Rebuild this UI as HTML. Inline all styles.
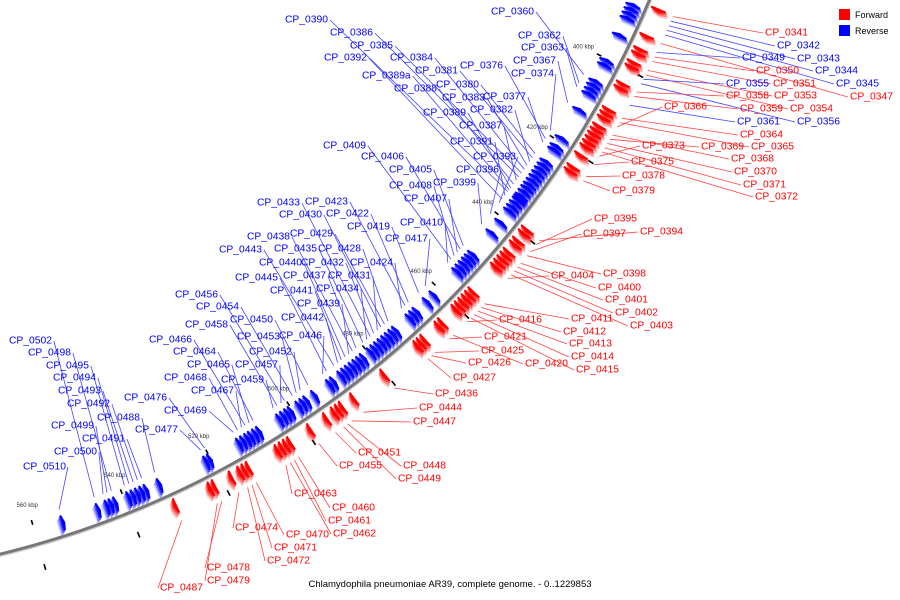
<!DOCTYPE html>
<html><head><meta charset="utf-8"><style>
html,body{margin:0;padding:0;background:#fff;width:900px;height:600px;overflow:hidden}
svg{display:block}
text{font-family:"Liberation Sans",sans-serif}
</style></head>
<body>
<svg id="map" width="900" height="600" viewBox="0 0 900 600">
  <g id="ticks"></g>
  <g id="feats"></g>
  <circle id="bb" fill="none" stroke="#777" stroke-width="3"></circle>
  <g id="lines"></g>
  <g id="labels"></g>
  <g>
    <rect x="839" y="9" width="11" height="11" fill="#f00"/>
    <text x="855" y="18" font-size="9">Forward</text>
    <rect x="839" y="25" width="11" height="11" fill="#00f"/>
    <text x="855" y="34" font-size="9">Reverse</text>
  </g>
  <text x="450" y="587" font-size="9.5" text-anchor="middle">Chlamydophila pneumoniae AR39, complete genome. - 0..1229853</text>
</svg>
<script>
const genomeLength = 1229853;
const tickKbp = [400,420,440,460,480,500,520,540,560];
const geneNames = ["0341","0342","0343","0344","0345","0347","0349","0350","0351","0353","0354","0355","0356","0358","0359","0360","0361","0362","0363","0364","0365","0366","0367","0368","0369","0370","0371","0372","0373","0374","0375","0376","0377","0378","0379","0380","0381","0382","0383","0384","0385","0386","0387","0388","0389","0389a","0390","0391","0392","0393","0394","0395","0396","0397","0398","0399","0400","0401","0402","0403","0404","0405","0406","0407","0408","0409","0410","0411","0412","0413","0414","0415","0416","0417","0419","0420","0421","0422","0423","0424","0425","0426","0427","0428","0429","0430","0431","0432","0433","0434","0435","0436","0437","0438","0439","0440","0441","0442","0443","0444","0445","0446","0447","0448","0449","0450","0451","0452","0453","0454","0455","0456","0457","0458","0459","0460","0461","0462","0463","0464","0465","0466","0467","0468","0469","0470","0471","0472","0474","0476","0477","0478","0479","0487","0488","0491","0492","0493","0494","0495","0498","0499","0500","0502","0510"];
const geneStartKbp = [386.0,387.0,388.0,389.0,390.0,391.9,393.9,394.9,395.9,397.9,398.9,399.9,400.9,402.8,403.8,404.8,405.8,406.8,407.8,408.8,409.8,410.8,411.7,412.7,413.7,414.7,415.7,416.7,417.7,418.7,419.7,420.7,421.6,422.6,423.6,424.6,425.6,426.6,427.6,428.6,429.6,430.6,431.5,432.5,433.5,434.0,434.5,435.5,436.5,437.5,438.5,439.5,440.5,441.4,442.4,443.4,444.4,445.4,446.4,447.4,448.4,449.4,450.4,451.3,452.3,453.3,454.3,455.3,456.3,457.3,458.3,459.3,460.3,461.2,463.2,464.2,465.2,466.2,467.2,468.2,469.2,470.2,471.1,472.1,473.1,474.1,475.1,476.1,477.1,478.1,479.1,480.1,481.0,482.0,483.0,484.0,485.0,486.0,487.0,488.0,489.0,490.0,490.9,491.9,492.9,493.9,494.9,495.9,496.9,497.9,498.9,499.9,500.8,501.8,502.8,503.8,504.8,505.8,506.8,507.8,508.8,509.8,510.7,511.7,512.7,513.7,514.7,515.7,517.7,519.7,520.6,521.6,522.6,530.5,531.5,534.5,535.5,536.5,537.5,538.5,541.5,542.5,543.4,545.4,553.3];
const geneStrand = "FRRRRFRFFFFRRFFRRRRFFFRFFFFFFRFRRFFRRRRRRRRRRRRRRRFFRFFRFFFFFRRRRRRFFFFFFRRFFRRRFFFRRRRRRRRFRRRRRRRFRRFFFRFRRRFRRRRFFFFRRRRRRFFFFRRFFFRRRRRRRRRRR";
const geneLenKbp = 0.8;
// label layout (text left x, middle y)
const labelPos = {"0341":[765,33],"0342":[777,46],"0349":[742,58],"0343":[797,59],"0350":[756,71],"0344":[815,71],"0355":[726,84],"0351":[773,84],"0345":[836,84],"0358":[726,96],"0353":[774,96],"0347":[850,97],"0366":[664,107],"0359":[740,109],"0354":[790,109],"0361":[737,122],"0356":[797,122],"0364":[740,135],"0373":[642,146],"0369":[701,147],"0365":[751,147],"0368":[731,159],"0375":[631,162],"0370":[734,172],"0378":[622,176],"0371":[743,185],"0379":[612,191],"0372":[755,197],"0395":[594,219],"0397":[583,234],"0394":[640,232],"0398":[603,274],"0404":[551,276],"0400":[598,288],"0401":[605,300],"0402":[615,313],"0403":[630,326],"0411":[571,319],"0416":[499,320],"0412":[563,332],"0421":[484,337],"0413":[569,344],"0425":[481,351],"0414":[571,357],"0426":[468,363],"0420":[525,364],"0415":[576,370],"0427":[453,378],"0436":[435,394],"0444":[419,408],"0447":[413,422],"0451":[358,453],"0455":[339,466],"0448":[403,466],"0449":[398,479],"0463":[294,494],"0460":[332,508],"0461":[328,521],"0462":[333,534],"0474":[235,528],"0470":[286,535],"0471":[274,548],"0472":[267,561],"0478":[207,568],"0479":[207,581],"0487":[160,588],
"0360":[491,12],"0357":[536,20],"0390":[285,20],"0386":[330,33],"0362":[518,36],"0385":[350,46],"0363":[521,48],"0392":[324,58],"0384":[390,58],"0367":[513,61],"0376":[460,66],"0381":[415,71],"0389a":[362,76],"0374":[511,74],"0380":[436,85],"0388":[394,89],"0383":[442,98],"0377":[483,97],"0389":[423,113],"0382":[470,110],"0387":[459,126],"0391":[450,142],"0409":[323,146],"0406":[361,157],"0393":[473,157],"0405":[389,170],"0396":[456,170],"0408":[389,186],"0399":[433,183],"0407":[404,199],"0423":[305,202],"0433":[257,203],"0430":[279,215],"0422":[326,214],"0410":[400,223],"0419":[347,227],"0429":[290,234],"0438":[247,237],"0417":[385,239],"0428":[318,249],"0443":[219,250],"0435":[274,249],"0440":[259,263],"0432":[301,263],"0424":[350,263],"0437":[283,276],"0431":[328,276],"0445":[235,278],"0441":[270,291],"0434":[316,289],"0456":[175,295],"0439":[297,304],"0454":[196,307],"0450":[230,320],"0442":[281,318],"0458":[185,325],"0453":[237,337],"0446":[279,336],"0466":[149,340],"0452":[249,352],"0464":[173,352],"0502":[9,341],"0498":[28,353],"0465":[187,365],"0457":[235,365],"0495":[46,366],"0468":[164,378],"0459":[221,380],"0494":[53,378],"0467":[191,391],"0493":[58,391],"0476":[124,398],"0492":[67,404],"0469":[164,411],"0488":[97,418],"0499":[51,426],"0477":[135,430],"0491":[82,439],"0500":[54,452],"0510":[23,467]};

const NS="http://www.w3.org/2000/svg";
const cx=-224, cy=-366, R=947;
function ang(kbp){return kbp*1000/genomeLength*2*Math.PI;}
function pt(kbp,r){const a=ang(kbp);return [cx+r*Math.sin(a), cy-r*Math.cos(a)];}
function mk(tag,attrs,parent){const e=document.createElementNS(NS,tag);for(const k in attrs)e.setAttribute(k,attrs[k]);parent.appendChild(e);return e;}

const bb=document.getElementById('bb');
bb.setAttribute('cx',cx);bb.setAttribute('cy',cy);bb.setAttribute('r',R);
const shadow=mk('circle',{cx:cx,cy:cy,r:R+2,fill:'none',stroke:'#ccc','stroke-width':1.5},document.getElementById('map'));


document.getElementById('map').insertBefore(shadow,bb);

const tg=document.getElementById('ticks');
tickKbp.forEach(k=>{
  const p=pt(k,907);
  const t=mk('text',{x:p[0].toFixed(1),y:p[1].toFixed(1),'font-size':6,fill:'#333','text-anchor':'middle','dominant-baseline':'middle'},tg);
  t.textContent=k+' kbp';
  
  
  const a=pt(k,922),b=pt(k,927);
  const l=mk('line',{x1:a[0],y1:a[1],x2:b[0],y2:b[1],stroke:'#000','stroke-width':1.6},tg);
  
  
  const c=pt(k,968),d=pt(k,974);
  const l2=mk('line',{x1:c[0],y1:c[1],x2:d[0],y2:d[1],stroke:'#000','stroke-width':1.6},tg);
  
  
});

const fg=document.getElementById('feats'), lg=document.getElementById('lines'), labg=document.getElementById('labels');
function featPath(s,e,r0,r1,fwd){
  const mid=(r0+r1)/2, tipw=0.4;
  let pts;
  if(fwd){pts=[pt(s,r0),pt(e-tipw,r0),pt(e,mid),pt(e-tipw,r1),pt(s,r1)];}
  else{pts=[pt(e,r0),pt(s+tipw,r0),pt(s,mid),pt(s+tipw,r1),pt(e,r1)];}
  return 'M'+pts.map(p=>p[0].toFixed(1)+','+p[1].toFixed(1)).join('L')+'Z';
}
geneNames.forEach((n,i)=>{
  const s=geneStartKbp[i], e=s+geneLenKbp, fwd=geneStrand[i]==='F';
  const col=fwd?'255,0,0':'0,0,255';
  const r0=fwd?951:926, r1=fwd?967:942;
  const g=mk('g',{},fg);
  
  
  [[0.2,0.9,4],[0.35,0.6,3],[0.6,0.3,1.5],[1,0,0]].forEach(([op,off,rr])=>{
    mk('path',{d:featPath(s+off,e+off,r0+rr,r1+rr,fwd),fill:'rgba('+col+','+op+')'},g);
  });
  const lp=labelPos[n]; if(!lp) return;
  const t=mk('text',{x:lp[0],y:lp[1],'font-size':10.3,fill:fwd?'#f00':'#00f','dominant-baseline':'middle'},labg);
  t.textContent='CP_'+n;
  
  
  const w=t.getComputedTextLength();
  const mid=(geneStartKbp[i]+geneLenKbp/2);
  const bp=pt(mid,947);
  const leftSide = lp[0] + w < bp[0] - 10 || (lp[1] < bp[1] - 10 && lp[0] < bp[0]);
  let a,b;
  if(leftSide){a=pt(mid,920);b=[lp[0]+w+2,lp[1]];}
  else{a=pt(mid,975);b=[lp[0]-2,lp[1]];}
  const l=mk('line',{x1:a[0].toFixed(1),y1:a[1].toFixed(1),x2:b[0].toFixed(1),y2:b[1].toFixed(1),stroke:fwd?'#f44':'#44f','stroke-width':0.8},lg);
  
  
});
</script>
</body></html>
